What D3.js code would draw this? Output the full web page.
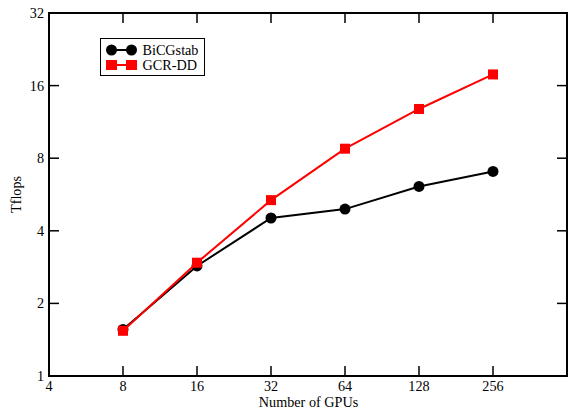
<!DOCTYPE html>
<html lang="en">
<head>
  <meta charset="UTF-8" />
  <title>Tflops vs GPUs</title>
  <script src="https://d3js.org/d3.v7.min.js"></script>
  <style>
    body { margin: 0; background: #fff; }
    text { font-family: "Liberation Serif", "DejaVu Serif", serif; fill: #000; }
  </style>
</head>
<body>
  <svg width="568" height="410"></svg>
  <script>
    // data
    const gpus = [8, 16, 32, 64, 128, 256];
    const bicgstab = [1.56, 2.86, 4.52, 4.92, 6.11, 7.05];
    const gcrdd = [1.54, 2.95, 5.36, 8.76, 12.8, 17.8];
    const xTicks = [4, 8, 16, 32, 64, 128, 256];
    const yTicks = [1, 2, 4, 8, 16, 32];

    const svg = d3.select("svg");
    const pL = 49, pR = 567, pT = 13, pB = 376;
    const fs = 14.2;

    const x = d3.scaleLog().base(2).domain([4, 512]).range([pL, pR]);
    const y = d3.scaleLog().base(2).domain([1, 32]).range([pB, pT]);

    // frame
    svg.append("rect")
      .attr("x", pL).attr("y", pT)
      .attr("width", pR - pL).attr("height", pB - pT)
      .attr("fill", "none").attr("stroke", "#000").attr("stroke-width", 2);

    // inward ticks on all four sides
    const tk = 10;
    const g = svg.append("g").attr("stroke", "#000").attr("stroke-width", 1.5);
    xTicks.forEach(v => {
      g.append("line").attr("x1", x(v)).attr("x2", x(v)).attr("y1", pB).attr("y2", pB - tk);
      g.append("line").attr("x1", x(v)).attr("x2", x(v)).attr("y1", pT).attr("y2", pT + tk);
    });
    yTicks.forEach(v => {
      g.append("line").attr("x1", pL).attr("x2", pL + tk).attr("y1", y(v)).attr("y2", y(v));
      g.append("line").attr("x1", pR).attr("x2", pR - tk).attr("y1", y(v)).attr("y2", y(v));
    });

    // tick labels
    svg.append("g").selectAll("text").data(xTicks).join("text")
      .attr("x", d => x(d)).attr("y", pB + 15)
      .attr("text-anchor", "middle").attr("font-size", fs)
      .text(d => d);
    svg.append("g").selectAll("text").data(yTicks).join("text")
      .attr("x", pL - 5).attr("y", d => y(d) + 5)
      .attr("text-anchor", "end").attr("font-size", fs)
      .text(d => d);

    // axis titles
    svg.append("text").attr("x", 308.5).attr("y", 407)
      .attr("text-anchor", "middle").attr("font-size", fs).text("Number of GPUs");
    svg.append("text").attr("transform", `translate(21,${(pT + pB) / 2}) rotate(-90)`)
      .attr("text-anchor", "middle").attr("font-size", fs).text("Tflops");

    const line = d3.line().x(d => x(d[0])).y(d => y(d[1]));
    const series = [
      { name: "BiCGstab", vals: bicgstab, color: "#000", shape: "circle" },
      { name: "GCR-DD", vals: gcrdd, color: "#f00", shape: "square" }
    ];

    series.forEach(s => {
      const pts = gpus.map((v, i) => [v, s.vals[i]]);
      svg.append("path").datum(pts).attr("d", line)
        .attr("fill", "none").attr("stroke", s.color).attr("stroke-width", 2);
      if (s.shape === "circle") {
        svg.append("g").selectAll("circle").data(pts).join("circle")
          .attr("cx", d => x(d[0])).attr("cy", d => y(d[1])).attr("r", 5.5)
          .attr("fill", s.color);
      } else {
        svg.append("g").selectAll("rect").data(pts).join("rect")
          .attr("x", d => x(d[0]) - 5).attr("y", d => y(d[1]) - 5)
          .attr("width", 10).attr("height", 10).attr("fill", s.color);
      }
    });

    // legend
    const lg = svg.append("g");
    lg.append("rect").attr("x", 100.5).attr("y", 38.5).attr("width", 104).attr("height", 37)
      .attr("fill", "#fff").attr("stroke", "#000").attr("stroke-width", 1);
    series.forEach((s, i) => {
      const ly = 50 + i * 15;
      lg.append("line").attr("x1", 111.5).attr("x2", 131.5).attr("y1", ly).attr("y2", ly)
        .attr("stroke", s.color).attr("stroke-width", 2);
      [111.5, 131.5].forEach(px => {
        if (s.shape === "circle") {
          lg.append("circle").attr("cx", px).attr("cy", ly).attr("r", 5.5).attr("fill", s.color);
        } else {
          lg.append("rect").attr("x", px - 5.5).attr("y", ly - 5).attr("width", 11).attr("height", 10).attr("fill", s.color);
        }
      });
      lg.append("text").attr("x", 142.5).attr("y", ly + 5).attr("font-size", fs).text(s.name);
    });
  </script>
</body>
</html>
